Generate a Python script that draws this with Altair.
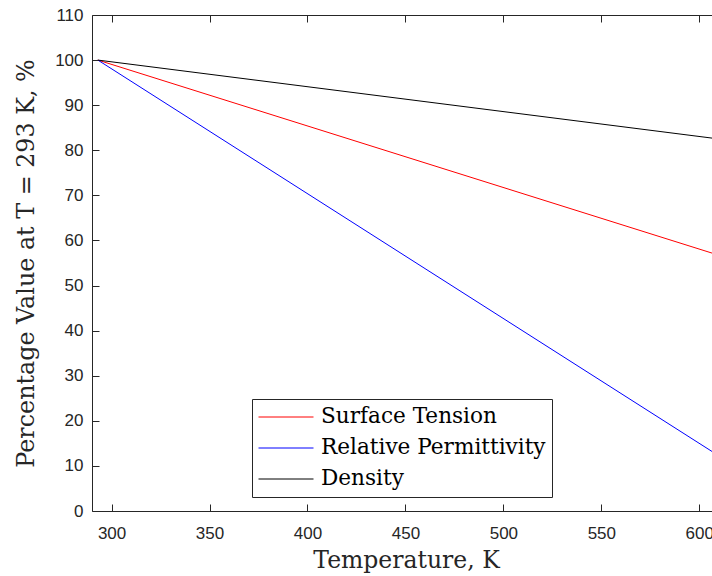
import altair as alt
import pandas as pd

# ---- data ----
series = ["Surface Tension", "Relative Permittivity", "Density"]
colors = ["#ff0000", "#0000ff", "#000000"]
temperature = [293, 606.5]
surface_tension = [100, 57.2]
permittivity = [100, 13.2]
density = [100, 82.7]

x_ticks = [300, 350, 400, 450, 500, 550, 600]
y_ticks = [0, 10, 20, 30, 40, 50, 60, 70, 80, 90, 100, 110]

rows = []
for name, vals in zip(series, [surface_tension, permittivity, density]):
    for t, v in zip(temperature, vals):
        rows.append({"T": t, "value": v, "series": name})
df = pd.DataFrame(rows)

W, H = 620, 496
AX = "#262626"
SANS = "Liberation Sans"
SERIF = "DejaVu Serif"

xs = alt.Scale(domain=[290, 606.5], nice=False, zero=False)
ys = alt.Scale(domain=[0, 110], nice=False, zero=False)

base = alt.Chart(df)

main = base.mark_line(strokeWidth=1, clip=True).encode(
    x=alt.X("T:Q", scale=xs, axis=alt.Axis(
        orient="bottom", values=x_ticks, title="Temperature, K",
        ticks=False, tickSize=0, grid=False, domain=True,
        domainColor=AX, domainWidth=1,
        labelFont=SANS, labelFontSize=17, labelColor=AX, labelPadding=14.5,
        labelOverlap=False, labelFlush=False,
        titleFont=SERIF, titleFontSize=23.5, titleFontWeight="normal",
        titleColor=AX, titleBaseline="alphabetic", titleAlign="center",
        titleX=314, titleY=56)),
    y=alt.Y("value:Q", scale=ys, axis=alt.Axis(
        orient="left", values=y_ticks,
        title="Percentage Value at T = 293 K, %",
        ticks=False, tickSize=0, grid=False, domain=True,
        domainColor=AX, domainWidth=1,
        labelFont=SANS, labelFontSize=17, labelColor=AX, labelPadding=9,
        labelOverlap=False, labelFlush=False,
        titleFont=SERIF, titleFontSize=23.8, titleFontWeight="normal",
        titleColor=AX, titleBaseline="alphabetic", titleAlign="center",
        titleAngle=270, titleX=-58.5, titleY=248)),
    color=alt.Color("series:N", scale=alt.Scale(domain=series, range=colors),
                    legend=alt.Legend(
                        title=None, orient="none", legendX=160, legendY=384,
                        symbolType="stroke", symbolSize=3025, symbolStrokeWidth=1,
                        labelFont=SERIF, labelFontSize=21.6, labelColor="#000000",
                        labelOffset=7, labelLimit=0, padding=6, rowPadding=7,
                        clipHeight=24, strokeColor=AX, fillColor="white",
                        cornerRadius=0)),
)

# inward ticks on the bottom and left edges
ticks_in = base.mark_line(strokeOpacity=0).encode(
    x=alt.X("T:Q", scale=xs, axis=alt.Axis(
        orient="top", offset=-H, values=x_ticks, title=None, labels=False,
        domain=False, grid=False, ticks=True, tickSize=7, tickColor=AX, tickWidth=1)),
    y=alt.Y("value:Q", scale=ys, axis=alt.Axis(
        orient="right", offset=-W, values=y_ticks, title=None, labels=False,
        domain=False, grid=False, ticks=True, tickSize=7, tickColor=AX, tickWidth=1)),
    detail="series:N",
)

# top border with inward ticks
top_frame = base.mark_line(strokeOpacity=0).encode(
    x=alt.X("T:Q", scale=xs, axis=alt.Axis(
        orient="bottom", offset=-H, values=x_ticks, title=None, labels=False,
        domain=True, domainColor=AX, domainWidth=1, grid=False,
        ticks=True, tickSize=7, tickColor=AX, tickWidth=1)),
    y=alt.Y("value:Q", scale=ys, axis=None),
    detail="series:N",
)

chart = alt.layer(main, ticks_in, top_frame).resolve_axis(
    x="independent", y="independent"
).properties(
    width=W, height=H,
    autosize=alt.AutoSizeParams(type="none"),
    padding={"left": 92, "top": 15, "right": 0, "bottom": 65},
    background="white",
).configure_view(stroke=None)

chart.save("out.html", embed_options={"renderer": "svg", "actions": False})
